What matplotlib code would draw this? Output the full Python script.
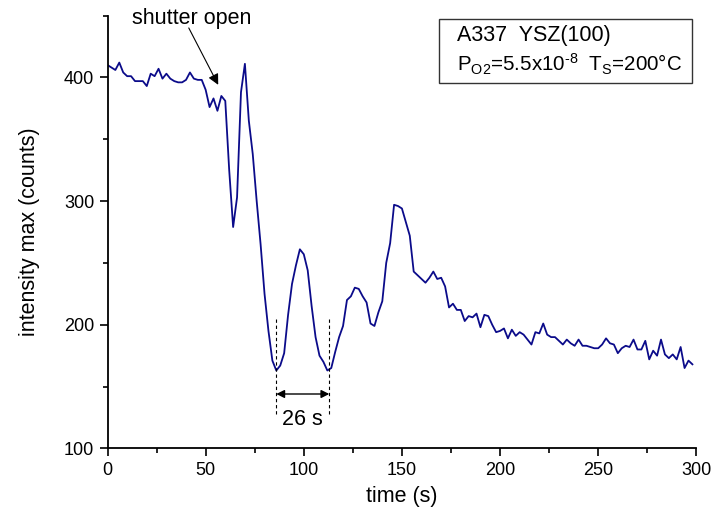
import numpy as np
import matplotlib
matplotlib.use('Agg')
import matplotlib.pyplot as plt
from matplotlib.ticker import MultipleLocator
from matplotlib.patches import Rectangle

plt.rcParams['font.family'] = ['Liberation Sans', 'DejaVu Sans']
plt.rcParams['mathtext.fontset'] = 'custom'
plt.rcParams['mathtext.rm'] = 'Liberation Sans'
plt.rcParams['mathtext.it'] = 'Liberation Sans'

# RHEED intensity trace, one point every 2 s
time = np.arange(0, 300, 2)
intensity = [410, 408, 406, 412, 404, 401, 401, 397, 397, 397,
             393, 403, 401, 407, 399, 403, 399, 397, 396, 396,
             398, 404, 399, 398, 398, 390, 376, 383, 373, 385,
             381, 325, 279, 303, 388, 411, 365, 338, 300, 265,
             225, 195, 171, 163, 167, 177, 208, 233, 248, 261,
             257, 244, 215, 190, 175, 170, 163, 165, 178, 190,
             199, 220, 223, 230, 229, 223, 218, 201, 199, 210,
             219, 250, 266, 297, 296, 294, 283, 272, 243, 240,
             237, 234, 238, 243, 237, 238, 231, 214, 217, 212,
             212, 203, 207, 206, 209, 198, 208, 207, 200, 194,
             195, 197, 189, 196, 191, 194, 192, 188, 184, 194,
             193, 201, 192, 190, 190, 187, 184, 188, 185, 183,
             188, 183, 183, 182, 181, 181, 184, 189, 185, 184,
             177, 181, 183, 182, 188, 180, 180, 187, 172, 179,
             175, 188, 176, 173, 176, 172, 182, 165, 171, 168]

# period markers (the two minima)
tmin1 = 86
tmin2 = 113

fig = plt.figure(figsize=(7.12, 5.19), dpi=100)
ax = fig.add_axes([0.151, 0.136, 0.827, 0.834])

ax.plot(time, intensity, color='#0b0b8a', lw=1.3)

ax.set_xlim(0, 300)
ax.set_ylim(100, 450)
ax.spines['top'].set_visible(False)
ax.spines['right'].set_visible(False)
ax.spines['left'].set_linewidth(1.3)
ax.spines['bottom'].set_linewidth(1.3)
ax.xaxis.set_major_locator(MultipleLocator(50))
ax.xaxis.set_minor_locator(MultipleLocator(25))
ax.yaxis.set_major_locator(MultipleLocator(100))
ax.yaxis.set_minor_locator(MultipleLocator(50))
ax.tick_params(which='major', direction='out', length=6, width=1.2, labelsize=13)
ax.tick_params(which='minor', direction='out', length=3.5, width=1.2)

ax.set_xlabel('time (s)', fontsize=15.5, labelpad=5)
ax.set_ylabel('intensity max (counts)', fontsize=15.5, labelpad=17)

# shutter annotation
ax.text(12.5, 448, 'shutter open', fontsize=15.5, va='center', ha='left')
ax.annotate('', xy=(56.4, 394), xytext=(41.4, 440),
            arrowprops=dict(arrowstyle='-|>', color='black', lw=0.8,
                            mutation_scale=16, shrinkA=0, shrinkB=0))

# oscillation period
ax.plot([tmin1, tmin1], [128, 206], color='black', ls=(0, (3, 2.5)), lw=0.8)
ax.plot([tmin2, tmin2], [128, 206], color='black', ls=(0, (3, 2.5)), lw=0.8)
ax.annotate('', xy=(tmin2, 144), xytext=(tmin1, 144),
            arrowprops=dict(arrowstyle='<|-|>', color='black', lw=1,
                            mutation_scale=12, shrinkA=0, shrinkB=0))
ax.text((tmin1 + tmin2) / 2, 123, '26 s', fontsize=15.5, ha='center', va='center')

# sample info box
ax.add_patch(Rectangle((0.5635, 0.845), 0.4285, 0.148, transform=ax.transAxes,
                       fill=False, lw=1, edgecolor='#333333', clip_on=False))
ax.text(0.593, 0.955, 'A337  YSZ(100)', transform=ax.transAxes,
        fontsize=15.5, va='center', ha='left')
ax.text(0.593, 0.870, 'P$_{\\mathrm{O2}}$=5.5x10$^{\\mathrm{\u2010}8}$  T$_{\\mathrm{S}}$=200°C',
        transform=ax.transAxes, fontsize=14.8, va='baseline', ha='left')

fig.savefig('out.png', dpi=100)
